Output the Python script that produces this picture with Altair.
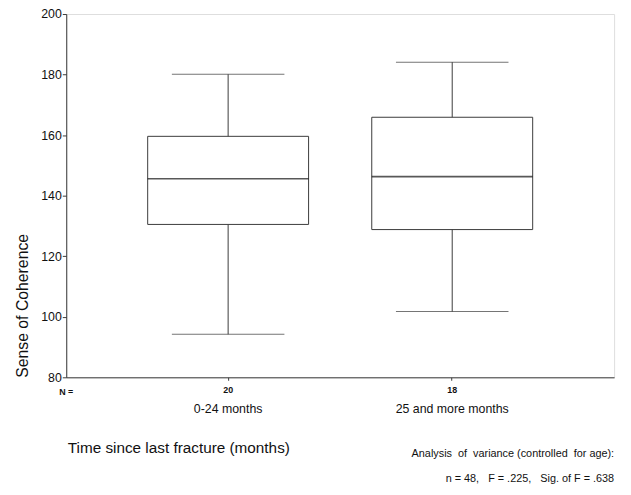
import altair as alt
import pandas as pd

# Data
groups = ["0-24 months", "25 and more months"]
n_counts = ["20", "18"]
whisker_low = [94.2, 101.7]
q1 = [130.5, 128.8]
median = [145.6, 146.3]
q3 = [159.6, 165.9]
whisker_high = [180.1, 184.1]

NB = "\u00a0"
anova_line1 = "Analysis " + NB + "of " + NB + "variance (controlled " + NB + "for age):"
anova_line2 = "n = 48, " + NB + NB + "F = .225, " + NB + NB + "Sig. of F = .638"
x_title = "Time since last fracture (months)"
y_title = "Sense of Coherence"

df = pd.DataFrame({
    "group": groups, "n": n_counts, "lo": whisker_low, "q1": q1,
    "med": median, "q3": q3, "hi": whisker_high,
})

FONT = "Liberation Sans"
LINE = "#3a3a3a"
H = 368

xscale = alt.Scale(domain=groups, paddingInner=0, paddingOuter=0.2225)
label_expr = "datum.value == '" + groups[0] + "' ? '" + n_counts[0] + "' : '" + n_counts[1] + "'"

x_enc = alt.X(
    "group:N", scale=xscale, sort=groups,
    axis=alt.Axis(
        title=x_title, labelExpr=label_expr, labelAngle=0,
        labelFont=FONT, labelFontSize=9, labelFontWeight="bold", labelColor="#111",
        labelPadding=5, tickSize=3, tickColor=LINE, domainColor=LINE,
        titleFont=FONT, titleFontSize=15.5, titleFontWeight="normal", titleColor="#111",
        titleAnchor="start", titleAlign="left", titleX=1, titleY=76,
        titleBaseline="alphabetic",
    ),
)
y_scale = alt.Scale(domain=[80, 200], nice=False, zero=False)
y_axis = alt.Axis(
    title=y_title, values=[80, 100, 120, 140, 160, 180, 200], grid=False,
    labelFont=FONT, labelFontSize=12.5, labelColor="#111", labelPadding=1,
    tickSize=4, tickColor=LINE, domainColor=LINE,
    titleFont=FONT, titleFontSize=16, titleFontWeight="normal", titleColor="#111",
    titleAngle=270, titleAnchor="start", titleAlign="left", titleX=-39, titleY=H,
    titleBaseline="alphabetic",
)

base = alt.Chart(df)
xs = alt.X("group:N", scale=xscale, sort=groups)

whisker = base.mark_rule(color=LINE, strokeWidth=1).encode(
    x=x_enc, y=alt.Y("lo:Q", scale=y_scale, axis=y_axis), y2="hi:Q"
)
box = base.mark_bar(size=163, fill="white", stroke=LINE, strokeWidth=1).encode(
    x=xs, y=alt.Y("q1:Q", scale=y_scale), y2="q3:Q"
)
med = base.mark_tick(orient="horizontal", size=163, thickness=1.6, color="#111").encode(
    x=xs, y=alt.Y("med:Q", scale=y_scale)
)
cap_lo = base.mark_tick(orient="horizontal", size=114, thickness=1, color=LINE).encode(
    x=xs, y=alt.Y("lo:Q", scale=y_scale)
)
cap_hi = base.mark_tick(orient="horizontal", size=114, thickness=1, color=LINE).encode(
    x=xs, y=alt.Y("hi:Q", scale=y_scale)
)
group_labels = base.mark_text(font=FONT, fontSize=12.5, color="#111", baseline="alphabetic").encode(
    x=xs, y=alt.value(404), text="group:N"
)
n_label = alt.Chart(pd.DataFrame({"t": ["N ="]})).mark_text(
    font=FONT, fontSize=9, fontWeight="bold", color="#111", baseline="alphabetic"
).encode(x=alt.value(0), y=alt.value(386), text="t:N")
anova1 = alt.Chart(pd.DataFrame({"t": [anova_line1]})).mark_text(
    font=FONT, fontSize=11, color="#111", align="right", baseline="alphabetic"
).encode(x=alt.value(555), y=alt.value(449), text="t:N")
anova2 = alt.Chart(pd.DataFrame({"t": [anova_line2]})).mark_text(
    font=FONT, fontSize=11, color="#111", align="right", baseline="alphabetic"
).encode(x=alt.value(555), y=alt.value(474), text="t:N")

chart = alt.layer(whisker, box, med, cap_lo, cap_hi, group_labels, n_label, anova1, anova2).properties(
    width=555, height=H,
    autosize=alt.AutoSizeParams(type="none"),
    padding={"left": 59, "top": 3, "right": 9, "bottom": 107},
).configure_view(stroke=LINE, strokeWidth=1).configure(background="white")

chart.save("out.html", embed_options={"renderer": "svg", "actions": False})
